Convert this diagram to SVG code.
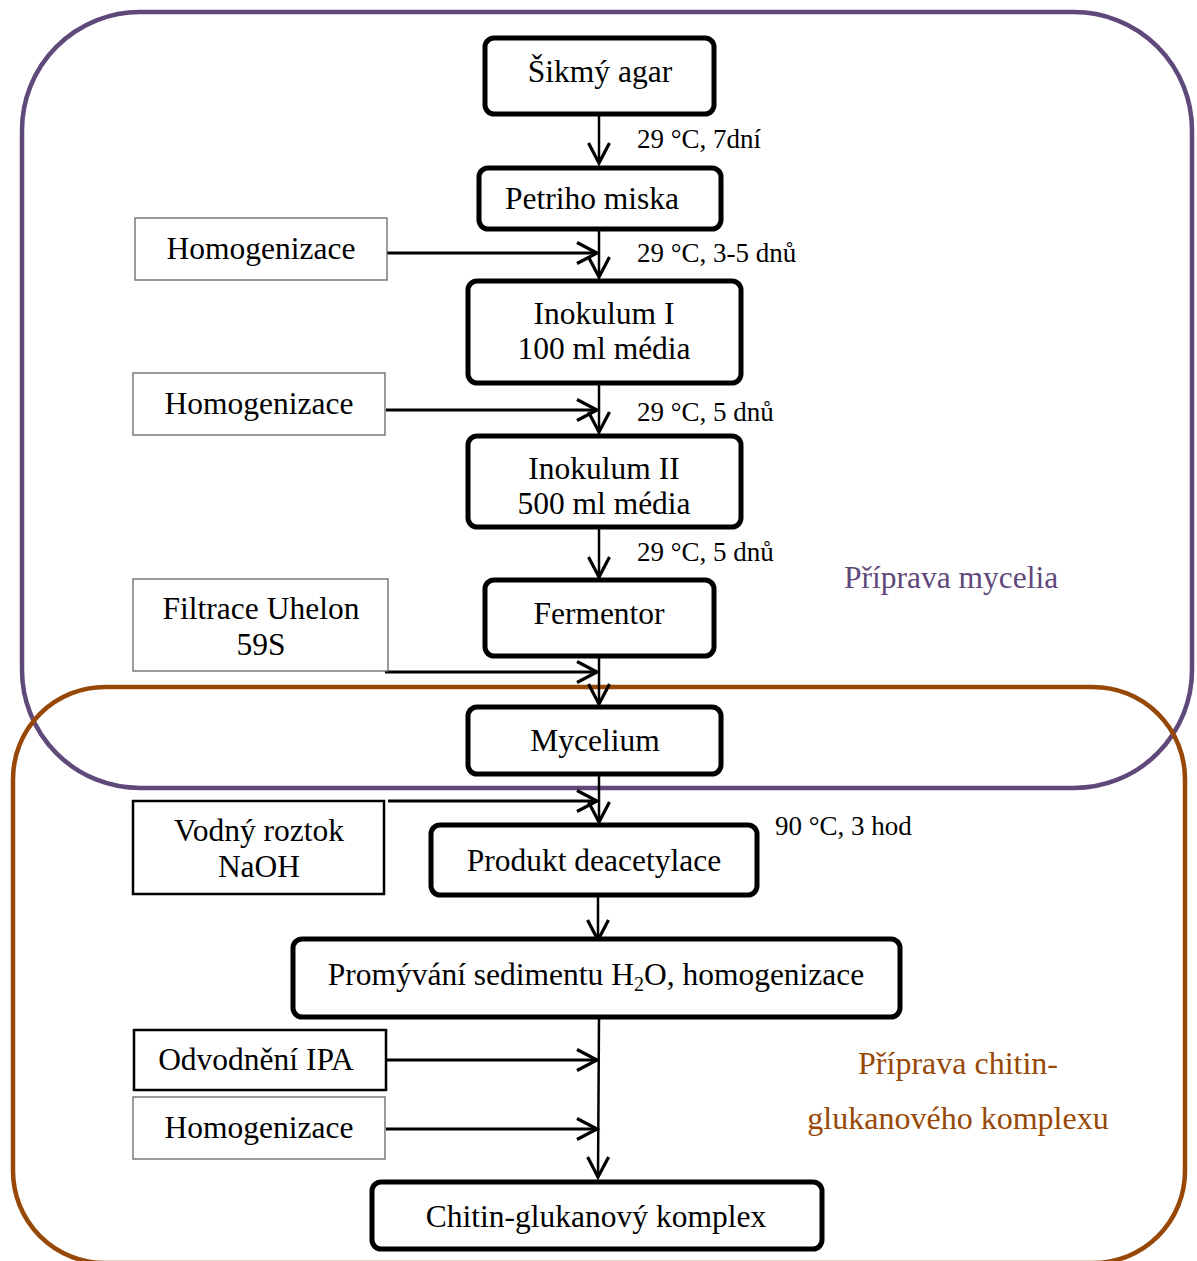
<svg xmlns="http://www.w3.org/2000/svg" width="1197" height="1261" viewBox="0 0 1197 1261">
<style>
text{font-family:"Liberation Serif","Times New Roman",serif;fill:#000}
.t{font-size:31.5px;text-anchor:middle}
.s{font-size:27px}
.n{fill:#fff;stroke:#000;stroke-width:5}
.b{fill:#fff;stroke:#666;stroke-width:1.3}
.bk{fill:#fff;stroke:#000;stroke-width:2.5}
.c line{stroke:#000;stroke-width:2.5}
.c .h{stroke-width:3}
</style>
<defs>
<marker id="a" markerUnits="userSpaceOnUse" markerWidth="30" markerHeight="30" viewBox="-25 -15 30 30" refX="0" refY="0" orient="auto">
<path d="M-20,-10.5 L0,0 L-20,10.5" fill="none" stroke="#000" stroke-width="3.2"/>
</marker>
</defs>
<g id="regions">
<rect x="22" y="12" width="1170" height="776" rx="118" ry="118" fill="none" stroke="#5f497a" stroke-width="4.5"/>
<rect x="13" y="687" width="1172" height="576" rx="92" ry="92" fill="none" stroke="#984806" stroke-width="4.5"/>
<text x="844" y="588" style="font-size:31.5px;fill:#5f497a">Příprava mycelia</text>
<text x="958" y="1074" style="font-size:32px;fill:#984806;text-anchor:middle">Příprava chitin-</text>
<text x="958" y="1129" style="font-size:32px;fill:#984806;text-anchor:middle">glukanového komplexu</text>
</g>
<g id="connectors" class="c">
<line x1="599" y1="114" x2="599" y2="163" marker-end="url(#a)"/>
<line x1="599" y1="229" x2="599" y2="277" marker-end="url(#a)"/>
<line class="h" x1="387" y1="253" x2="597" y2="253" marker-end="url(#a)"/>
<line x1="599" y1="383" x2="599" y2="432" marker-end="url(#a)"/>
<line class="h" x1="386" y1="410" x2="597" y2="410" marker-end="url(#a)"/>
<line x1="599" y1="527" x2="599" y2="577" marker-end="url(#a)"/>
<line x1="599" y1="656" x2="599" y2="704" marker-end="url(#a)"/>
<line class="h" x1="385" y1="672" x2="597" y2="672" marker-end="url(#a)"/>
<line x1="599" y1="774" x2="599" y2="822" marker-end="url(#a)"/>
<line class="h" x1="388" y1="801" x2="597" y2="801" marker-end="url(#a)"/>
<line x1="598" y1="895" x2="598" y2="940" marker-end="url(#a)"/>
<line x1="599" y1="1017" x2="598" y2="1177" marker-end="url(#a)"/>
<line class="h" x1="386" y1="1060" x2="597" y2="1060" marker-end="url(#a)"/>
<line class="h" x1="386" y1="1129" x2="597" y2="1129" marker-end="url(#a)"/>
</g>
<g id="labels">
<text class="s" x="637" y="148">29 °C, 7dní</text>
<text class="s" x="637" y="262">29 °C, 3-5 dnů</text>
<text class="s" x="637" y="421">29 °C, 5 dnů</text>
<text class="s" x="637" y="561">29 °C, 5 dnů</text>
<text class="s" x="775" y="835">90 °C, 3 hod</text>
</g>
<g id="sikmy-agar"><rect class="n" x="485" y="38" width="229" height="76" rx="9"/><text class="t" x="600" y="82">Šikmý agar</text></g>
<g id="petriho-miska"><rect class="n" x="479" y="168" width="242" height="61" rx="9"/><text class="t" x="592" y="209">Petriho miska</text></g>
<g id="inokulum-1"><rect class="n" x="468" y="281" width="273" height="102" rx="9"/><text class="t" x="604" y="324">Inokulum I</text><text class="t" x="604" y="359">100 ml média</text></g>
<g id="inokulum-2"><rect class="n" x="468" y="436" width="273" height="91" rx="9"/><text class="t" x="604" y="479">Inokulum II</text><text class="t" x="604" y="514">500 ml média</text></g>
<g id="fermentor"><rect class="n" x="485" y="580" width="229" height="76" rx="9"/><text class="t" x="599" y="624">Fermentor</text></g>
<g id="mycelium"><rect class="n" x="468" y="707" width="253" height="67" rx="9"/><text class="t" x="595" y="751">Mycelium</text></g>
<g id="produkt-deacetylace"><rect class="n" x="431" y="825" width="326" height="70" rx="9"/><text class="t" x="594" y="871">Produkt deacetylace</text></g>
<g id="promyvani"><rect class="n" x="293" y="939" width="607" height="78" rx="9"/><text class="t" x="596" y="985">Promývání sedimentu H<tspan style="font-size:20px" dy="6">2</tspan><tspan dy="-6">O, homogenizace</tspan></text></g>
<g id="chitin-glukanovy-komplex"><rect class="n" x="372" y="1182" width="450" height="67" rx="9"/><text class="t" x="596" y="1227">Chitin-glukanový komplex</text></g>
<g id="homogenizace-1"><rect class="b" x="135" y="218" width="252" height="62"/><text class="t" x="261" y="259">Homogenizace</text></g>
<g id="homogenizace-2"><rect class="b" x="133" y="373" width="252" height="62"/><text class="t" x="259" y="414">Homogenizace</text></g>
<g id="filtrace"><rect class="b" x="133" y="579" width="255" height="92"/><text class="t" x="261" y="619">Filtrace Uhelon</text><text class="t" x="261" y="655">59S</text></g>
<g id="vodny-roztok"><rect class="bk" x="133" y="801" width="251" height="93"/><text class="t" x="259" y="841">Vodný roztok</text><text class="t" x="259" y="877">NaOH</text></g>
<g id="odvodneni"><rect class="bk" x="134" y="1030" width="252" height="60"/><text class="t" x="256" y="1070">Odvodnění IPA</text></g>
<g id="homogenizace-3"><rect class="b" x="133" y="1097" width="252" height="62"/><text class="t" x="259" y="1138">Homogenizace</text></g>
</svg>
